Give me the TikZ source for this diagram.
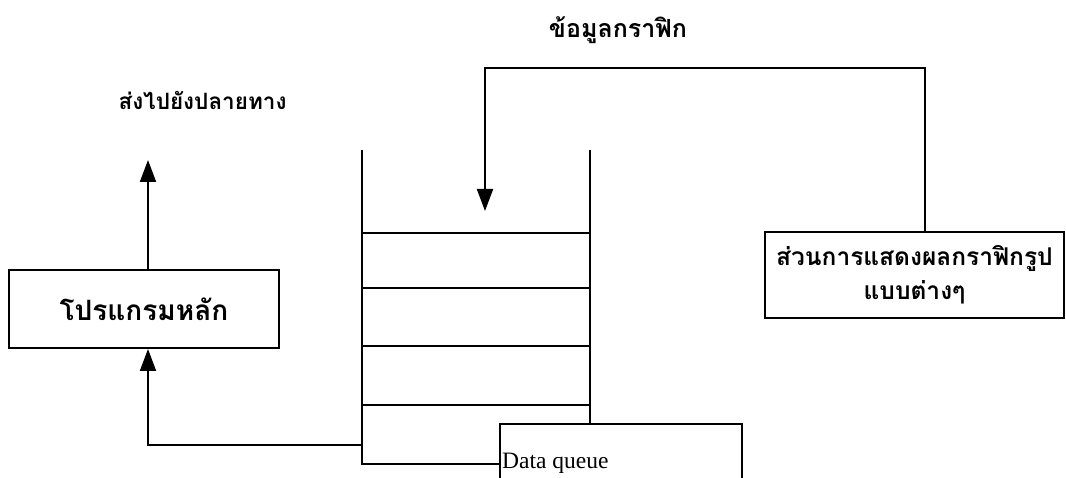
\documentclass[tikz,border=0pt]{standalone}
\usepackage{fontspec}
\setmainfont{Liberation Serif}
\newfontfamily\thaifont[Script=Thai]{Loma}
\usetikzlibrary{arrows.meta}
\newcommand{\thsize}[1]{\thaifont\bfseries\fontsize{#1}{#1}\selectfont}
\tikzset{
  ln/.style={line width=2pt},
  arr/.style={ln,-{Triangle[width=16pt,length=22pt]}},
  boxnode/.style={draw,ln,inner sep=0pt,align=center}
}
\begin{document}
\begin{tikzpicture}[x=1pt,y=-1pt]
\useasboundingbox (0,0) rectangle (1066,478);
% labels
\node[font=\thsize{25}] (lblg) at (618,30) {ข้อมูลกราฟิก};
\node[font=\thsize{22.5},anchor=west] (lbld) at (115,100) {ส่งไปยังปลายทาง};
% main program box
\node[boxnode,font=\thsize{28},minimum width=270pt,minimum height=78pt] (main) at (144,309) {โปรแกรมหลัก};
% display box
\node[boxnode,font=\thsize{24.5},minimum width=299pt,minimum height=86pt,text width=290pt] (disp) at (914.5,275) {ส่วนการแสดงผลกราฟิกรูป\\[8pt]แบบต่างๆ};
% stack
\draw[ln] (362,150) -- (362,464) -- (500,464);
\draw[ln] (590,150) -- (590,424);
\foreach \yy in {233,288,346,405}{\draw[ln] (362,\yy) -- (590,\yy);}
% data queue box
\node[anchor=west,inner sep=0pt,font=\fontsize{23.5}{28}\selectfont] (dq) at (502,463) {Data queue};
\draw[ln] (500,482) -- (500,424) -- (742,424) -- (742,482);
% coordinates
\coordinate (qout) at (362,445);
\coordinate (qin) at (485,211);
\coordinate (turn) at (485,68);
\coordinate (dest) at (148,160);
\coordinate (dtop) at (925,233);
% connectors
\draw[arr] (qout) -| ([xshift=4pt]main.south);
\draw[arr] ([xshift=4pt]main.north) -- (dest);
\draw[arr] (dtop) |- (turn) -- (qin);
\end{tikzpicture}
\end{document}
